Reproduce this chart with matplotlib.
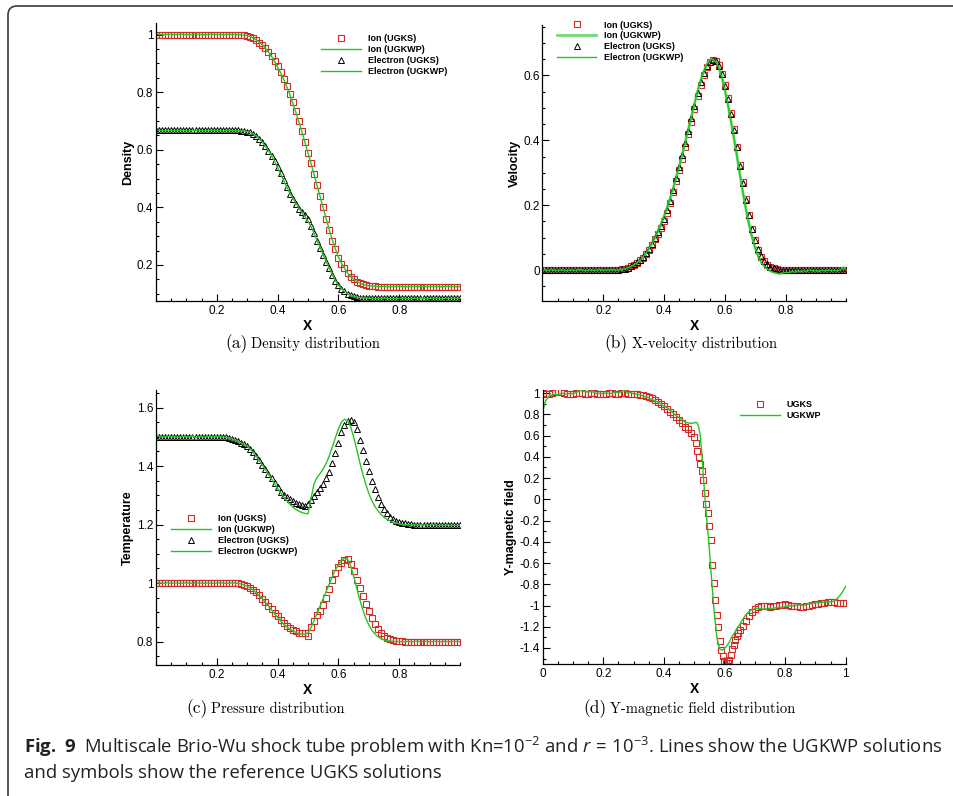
import numpy as np
import matplotlib
matplotlib.use('Agg')
import matplotlib.pyplot as plt
from matplotlib.patches import FancyBboxPatch
from matplotlib.transforms import IdentityTransform
from matplotlib.ticker import FixedLocator, FixedFormatter, MultipleLocator

# ---------------- data ----------------
# common grid for panels (a)-(c)
x = np.linspace(0.0, 1.0, 101)

# (a) density
rho_ion_ugks = [
    1.0, 1.0, 1.0, 1.0, 1.0, 1.0, 1.0, 1.0, 1.0, 1.0,
    1.0, 1.0, 1.0, 1.0, 1.0, 1.0, 1.0, 1.0, 1.0, 1.0,
    1.0, 1.0, 1.0, 1.0, 1.0, 1.0, 1.0, 1.0, 0.999, 0.998,
    0.996, 0.992, 0.987, 0.980, 0.972, 0.963, 0.953, 0.940, 0.925, 0.908,
    0.890, 0.870, 0.847, 0.823, 0.795, 0.765, 0.735, 0.700, 0.665, 0.628,
    0.590, 0.555, 0.516, 0.477, 0.440, 0.400, 0.360, 0.320, 0.285, 0.255,
    0.225, 0.205, 0.190, 0.172, 0.160, 0.150, 0.142, 0.137, 0.133, 0.130,
    0.128, 0.127, 0.126, 0.125, 0.125, 0.125, 0.125, 0.125, 0.125, 0.125,
    0.125, 0.125, 0.125, 0.125, 0.125, 0.125, 0.125, 0.125, 0.125, 0.125,
    0.125, 0.125, 0.125, 0.125, 0.125, 0.125, 0.125, 0.125, 0.125, 0.125,
    0.125]
rho_ion_ugkwp = [
    1.0, 1.001, 0.999, 1.0, 1.001, 1.0, 0.999, 1.0, 1.001, 1.0,
    1.0, 0.999, 1.0, 1.001, 1.0, 1.0, 0.999, 1.0, 1.001, 1.0,
    1.0, 1.0, 0.999, 1.0, 1.001, 1.0, 1.0, 0.999, 0.999, 0.998,
    0.996, 0.993, 0.988, 0.981, 0.973, 0.964, 0.952, 0.939, 0.924, 0.906,
    0.887, 0.867, 0.845, 0.820, 0.792, 0.762, 0.730, 0.697, 0.662, 0.626,
    0.588, 0.552, 0.514, 0.475, 0.437, 0.398, 0.360, 0.322, 0.287, 0.256,
    0.228, 0.206, 0.189, 0.172, 0.160, 0.150, 0.143, 0.137, 0.133, 0.130,
    0.128, 0.127, 0.126, 0.125, 0.125, 0.126, 0.125, 0.124, 0.125, 0.125,
    0.126, 0.125, 0.124, 0.125, 0.125, 0.126, 0.125, 0.125, 0.124, 0.125,
    0.125, 0.126, 0.125, 0.125, 0.124, 0.125, 0.126, 0.125, 0.125, 0.124,
    0.125]
rho_ele_ugks = [
    0.667, 0.667, 0.667, 0.667, 0.667, 0.667, 0.667, 0.667, 0.667, 0.667,
    0.667, 0.667, 0.667, 0.667, 0.667, 0.667, 0.667, 0.667, 0.667, 0.667,
    0.667, 0.667, 0.667, 0.667, 0.667, 0.667, 0.667, 0.667, 0.666, 0.665,
    0.663, 0.660, 0.655, 0.648, 0.638, 0.626, 0.612, 0.597, 0.580, 0.560,
    0.540, 0.518, 0.495, 0.470, 0.448, 0.428, 0.410, 0.395, 0.385, 0.375,
    0.360, 0.335, 0.310, 0.285, 0.260, 0.235, 0.210, 0.188, 0.165, 0.145,
    0.130, 0.118, 0.108, 0.100, 0.095, 0.092, 0.089, 0.087, 0.086, 0.085,
    0.084, 0.084, 0.084, 0.084, 0.084, 0.084, 0.084, 0.084, 0.084, 0.084,
    0.084, 0.084, 0.084, 0.084, 0.084, 0.084, 0.084, 0.084, 0.084, 0.084,
    0.084, 0.084, 0.084, 0.084, 0.084, 0.084, 0.084, 0.084, 0.084, 0.084,
    0.084]
rho_ele_ugkwp = [
    0.667, 0.668, 0.666, 0.667, 0.668, 0.667, 0.666, 0.667, 0.668, 0.667,
    0.667, 0.666, 0.667, 0.668, 0.667, 0.667, 0.666, 0.667, 0.668, 0.667,
    0.667, 0.667, 0.666, 0.667, 0.668, 0.667, 0.667, 0.666, 0.666, 0.665,
    0.663, 0.660, 0.655, 0.648, 0.638, 0.626, 0.612, 0.597, 0.580, 0.560,
    0.538, 0.516, 0.493, 0.471, 0.450, 0.432, 0.415, 0.398, 0.382, 0.368,
    0.352, 0.333, 0.310, 0.285, 0.260, 0.235, 0.211, 0.188, 0.166, 0.146,
    0.130, 0.118, 0.108, 0.100, 0.095, 0.092, 0.089, 0.087, 0.086, 0.085,
    0.084, 0.084, 0.083, 0.084, 0.084, 0.085, 0.084, 0.083, 0.084, 0.084,
    0.084, 0.085, 0.084, 0.083, 0.084, 0.084, 0.084, 0.085, 0.084, 0.083,
    0.084, 0.084, 0.085, 0.084, 0.083, 0.084, 0.084, 0.084, 0.085, 0.084,
    0.084]

# (b) x-velocity
u_ion_ugks = [
    0.0, 0.0, 0.0, 0.0, 0.0, 0.0, 0.0, 0.0, 0.0, 0.0,
    0.0, 0.0, 0.0, 0.0, 0.0, 0.0, 0.0, 0.0, 0.0, 0.0,
    0.0, 0.0, 0.0, 0.0, 0.0, 0.001, 0.003, 0.005, 0.008, 0.012,
    0.017, 0.023, 0.030, 0.038, 0.050, 0.063, 0.078, 0.095, 0.112, 0.130,
    0.150, 0.177, 0.208, 0.240, 0.275, 0.308, 0.343, 0.380, 0.418, 0.455,
    0.495, 0.535, 0.570, 0.600, 0.625, 0.640, 0.648, 0.645, 0.632, 0.605,
    0.570, 0.530, 0.485, 0.435, 0.380, 0.325, 0.270, 0.218, 0.170, 0.128,
    0.092, 0.063, 0.042, 0.027, 0.017, 0.010, 0.006, 0.004, 0.002, 0.001,
    0.0, 0.0, 0.0, 0.0, 0.0, 0.0, 0.0, 0.0, 0.0, 0.0,
    0.0, 0.0, 0.0, 0.0, 0.0, 0.0, 0.0, 0.0, 0.0, 0.0,
    0.0]
u_ele_ugks = [
    0.0, 0.0, 0.0, 0.0, 0.0, 0.0, 0.0, 0.0, 0.0, 0.0,
    0.0, 0.0, 0.0, 0.0, 0.0, 0.0, 0.0, 0.0, 0.0, 0.0,
    0.0, 0.0, 0.0, 0.0, 0.0, 0.001, 0.003, 0.005, 0.008, 0.013,
    0.018, 0.024, 0.032, 0.041, 0.053, 0.066, 0.082, 0.100, 0.118, 0.137,
    0.158, 0.184, 0.214, 0.247, 0.283, 0.318, 0.355, 0.392, 0.430, 0.468,
    0.507, 0.545, 0.578, 0.606, 0.628, 0.642, 0.648, 0.644, 0.630, 0.603,
    0.568, 0.527, 0.482, 0.432, 0.378, 0.322, 0.268, 0.216, 0.169, 0.128,
    0.092, 0.064, 0.043, 0.028, 0.018, 0.011, 0.007, 0.004, 0.002, 0.001,
    0.0, 0.0, 0.0, 0.0, 0.0, 0.0, 0.0, 0.0, 0.0, 0.0,
    0.0, 0.0, 0.0, 0.0, 0.0, 0.0, 0.0, 0.0, 0.0, 0.0,
    0.0]
u_ion_ugkwp = [
    0.0, 0.002, -0.002, 0.001, 0.0, -0.002, 0.002, 0.0, -0.001, 0.002,
    0.0, -0.002, 0.001, 0.002, -0.001, 0.0, 0.002, -0.002, 0.0, 0.001,
    -0.001, 0.002, 0.0, 0.001, 0.0, 0.001, 0.002, 0.004, 0.007, 0.011,
    0.016, 0.022, 0.030, 0.040, 0.052, 0.066, 0.082, 0.100, 0.120, 0.142,
    0.166, 0.192, 0.221, 0.252, 0.285, 0.320, 0.357, 0.395, 0.434, 0.473,
    0.512, 0.550, 0.583, 0.610, 0.632, 0.645, 0.650, 0.643, 0.625, 0.595,
    0.555, 0.510, 0.460, 0.405, 0.350, 0.292, 0.236, 0.185, 0.140, 0.100,
    0.068, 0.042, 0.024, 0.012, 0.004, -0.002, -0.006, -0.008, -0.010, -0.008,
    -0.006, -0.007, -0.003, -0.005, -0.001, -0.004, 0.0, -0.003, 0.002, -0.002,
    0.0, -0.003, 0.001, -0.002, 0.002, -0.001, 0.001, -0.002, 0.003, 0.008,
    0.002]
u_ele_ugkwp = [
    0.0, 0.001, -0.001, 0.002, 0.0, -0.001, 0.001, 0.0, -0.002, 0.001,
    0.0, -0.001, 0.002, 0.001, -0.002, 0.0, 0.001, -0.001, 0.0, 0.002,
    -0.001, 0.001, 0.0, 0.002, 0.0, 0.001, 0.002, 0.004, 0.007, 0.011,
    0.016, 0.022, 0.030, 0.040, 0.052, 0.066, 0.082, 0.100, 0.120, 0.143,
    0.167, 0.193, 0.222, 0.253, 0.286, 0.321, 0.358, 0.396, 0.435, 0.474,
    0.513, 0.551, 0.584, 0.611, 0.633, 0.646, 0.650, 0.642, 0.624, 0.594,
    0.554, 0.509, 0.459, 0.404, 0.349, 0.291, 0.235, 0.184, 0.139, 0.099,
    0.067, 0.041, 0.023, 0.011, 0.003, -0.003, -0.007, -0.009, -0.011, -0.009,
    -0.007, -0.008, -0.004, -0.006, -0.002, -0.005, -0.001, -0.004, 0.001, -0.003,
    -0.001, -0.004, 0.0, -0.003, 0.001, -0.002, 0.0, -0.003, 0.002, 0.006,
    0.001]

# (c) temperature
T_ele_ugks = [
    1.5, 1.5, 1.5, 1.5, 1.5, 1.5, 1.5, 1.5, 1.5, 1.5,
    1.5, 1.5, 1.5, 1.5, 1.5, 1.5, 1.5, 1.5, 1.5, 1.5,
    1.5, 1.5, 1.499, 1.498, 1.496, 1.493, 1.489, 1.485, 1.480, 1.475,
    1.470, 1.460, 1.448, 1.435, 1.420, 1.405, 1.390, 1.374, 1.358, 1.342,
    1.327, 1.313, 1.301, 1.295, 1.286, 1.279, 1.273, 1.269, 1.266, 1.265,
    1.270, 1.283, 1.296, 1.310, 1.325, 1.340, 1.358, 1.380, 1.410, 1.445,
    1.480, 1.515, 1.540, 1.555, 1.558, 1.550, 1.525, 1.490, 1.455, 1.418,
    1.383, 1.350, 1.320, 1.293, 1.270, 1.252, 1.238, 1.227, 1.219, 1.213,
    1.209, 1.206, 1.204, 1.202, 1.201, 1.2, 1.2, 1.2, 1.2, 1.2,
    1.2, 1.2, 1.2, 1.2, 1.2, 1.2, 1.2, 1.2, 1.2, 1.2,
    1.2]
T_ele_ugkwp = [
    1.5, 1.502, 1.498, 1.5, 1.503, 1.499, 1.501, 1.497, 1.5, 1.502,
    1.499, 1.5, 1.503, 1.498, 1.5, 1.501, 1.498, 1.502, 1.5, 1.499,
    1.501, 1.5, 1.499, 1.498, 1.496, 1.493, 1.489, 1.485, 1.480, 1.474,
    1.468, 1.458, 1.446, 1.433, 1.418, 1.403, 1.388, 1.372, 1.356, 1.340,
    1.324, 1.309, 1.295, 1.282, 1.270, 1.260, 1.252, 1.246, 1.241, 1.238,
    1.237, 1.290, 1.340, 1.362, 1.375, 1.390, 1.410, 1.435, 1.465, 1.497,
    1.527, 1.550, 1.560, 1.555, 1.535, 1.500, 1.458, 1.414, 1.374, 1.338,
    1.307, 1.282, 1.262, 1.247, 1.235, 1.225, 1.218, 1.212, 1.208, 1.205,
    1.202, 1.200, 1.199, 1.200, 1.198, 1.200, 1.197, 1.200, 1.198, 1.199,
    1.197, 1.200, 1.198, 1.196, 1.199, 1.197, 1.200, 1.196, 1.198, 1.197,
    1.198]
T_ion_ugks = [
    1.0, 1.0, 1.0, 1.0, 1.0, 1.0, 1.0, 1.0, 1.0, 1.0,
    1.0, 1.0, 1.0, 1.0, 1.0, 1.0, 1.0, 1.0, 1.0, 1.0,
    1.0, 1.0, 1.0, 1.0, 1.0, 1.0, 1.0, 0.999, 0.997, 0.994,
    0.990, 0.984, 0.977, 0.968, 0.958, 0.947, 0.935, 0.923, 0.911, 0.899,
    0.887, 0.875, 0.864, 0.855, 0.847, 0.840, 0.835, 0.831, 0.829, 0.829,
    0.820, 0.850, 0.870, 0.890, 0.905, 0.925, 0.950, 0.980, 1.010, 1.035,
    1.055, 1.070, 1.080, 1.082, 1.065, 1.042, 1.012, 0.983, 0.957, 0.930,
    0.905, 0.880, 0.860, 0.843, 0.830, 0.820, 0.813, 0.808, 0.805, 0.803,
    0.802, 0.801, 0.8, 0.8, 0.8, 0.8, 0.8, 0.8, 0.8, 0.8,
    0.8, 0.8, 0.8, 0.8, 0.8, 0.8, 0.8, 0.8, 0.8, 0.8,
    0.8]
T_ion_ugkwp = [
    1.0, 1.001, 0.999, 1.0, 1.002, 0.999, 1.0, 1.001, 0.999, 1.0,
    1.001, 1.0, 0.999, 1.001, 1.0, 1.0, 0.999, 1.001, 1.0, 0.999,
    1.0, 1.001, 1.0, 0.999, 1.0, 1.001, 1.0, 0.999, 0.997, 0.993,
    0.989, 0.983, 0.976, 0.967, 0.957, 0.946, 0.934, 0.921, 0.908, 0.895,
    0.883, 0.871, 0.860, 0.851, 0.843, 0.837, 0.832, 0.828, 0.826, 0.825,
    0.830, 0.848, 0.872, 0.897, 0.922, 0.947, 0.972, 0.997, 1.022, 1.045,
    1.064, 1.077, 1.085, 1.082, 1.060, 1.025, 0.984, 0.945, 0.910, 0.880,
    0.857, 0.839, 0.826, 0.817, 0.810, 0.806, 0.803, 0.802, 0.801, 0.800,
    0.801, 0.799, 0.800, 0.801, 0.799, 0.800, 0.802, 0.799, 0.800, 0.801,
    0.799, 0.800, 0.801, 0.800, 0.799, 0.801, 0.800, 0.799, 0.801, 0.800,
    0.800]

# (d) y-magnetic field, finer sampling through the shock
xb = np.concatenate([np.linspace(0.0, 0.49, 50),
                     np.linspace(0.50, 0.65, 31),
                     np.linspace(0.66, 1.0, 35)])
By_ugks = [
    1.0, 0.99, 0.995, 1.005, 1.01, 1.015, 1.01, 1.0, 0.995, 0.99,
    0.995, 1.0, 1.005, 1.0, 0.995, 0.995, 1.0, 1.0, 0.995, 0.99,
    0.99, 0.995, 1.0, 1.0, 0.995, 0.995, 1.0, 1.0, 0.995, 0.995,
    0.99, 0.99, 0.985, 0.98, 0.975, 0.965, 0.955, 0.94, 0.92, 0.9,
    0.875, 0.85, 0.825, 0.8, 0.775, 0.745, 0.715, 0.685, 0.66, 0.625,
    0.59, 0.53, 0.46, 0.40, 0.33, 0.27, 0.18, 0.06, -0.04, -0.13,
    -0.25, -0.38, -0.62, -0.79, -0.95, -1.09, -1.2, -1.33, -1.42, -1.48,
    -1.52, -1.545, -1.54, -1.515, -1.47, -1.41, -1.37, -1.325, -1.29, -1.26,
    -1.23,
    -1.19, -1.15, -1.1, -1.06, -1.03, -1.01, -1.0, -1.0, -1.005, -1.01,
    -1.005, -1.0, -0.995, -0.995, -0.99, -0.995, -1.0, -1.0, -1.005, -1.01,
    -1.01, -1.005, -1.0, -0.995, -0.99, -0.985, -0.98, -0.975, -0.97, -0.97,
    -0.97, -0.975, -0.975, -0.98, -0.98]
By_ugkwp = [
    0.83, 0.93, 0.97, 0.985, 0.99, 0.985, 0.995, 1.0, 0.99, 1.0,
    0.995, 1.005, 1.02, 1.03, 1.015, 1.01, 1.02, 1.005, 0.995, 1.0,
    0.995, 1.005, 0.995, 1.0, 1.01, 1.005, 1.015, 1.035, 1.0, 1.005,
    0.995, 0.99, 0.985, 0.975, 0.965, 0.96, 0.94, 0.93, 0.915, 0.9,
    0.875, 0.865, 0.84, 0.815, 0.79, 0.77, 0.75, 0.73, 0.72, 0.715,
    0.72, 0.725, 0.72, 0.68, 0.6, 0.44, 0.22, 0.04, -0.14, -0.3,
    -0.47, -0.66, -0.85, -1.03, -1.17, -1.3, -1.37, -1.41, -1.42, -1.415,
    -1.405, -1.39, -1.37, -1.35, -1.32, -1.29, -1.27, -1.25, -1.22, -1.2,
    -1.18,
    -1.13, -1.09, -1.06, -1.04, -1.03, -1.025, -1.03, -1.035, -1.03, -1.025,
    -1.03, -1.02, -1.015, -1.02, -1.01, -1.005, -1.0, -1.005, -0.995, -0.995,
    -1.0, -0.99, -0.985, -0.98, -0.975, -0.975, -0.97, -0.97, -0.97, -0.965,
    -0.96, -0.94, -0.91, -0.87, -0.82]

# tick labels
ticks_x_inner = [0.2, 0.4, 0.6, 0.8]
labels_x_inner = ['0.2', '0.4', '0.6', '0.8']
ticks_x_full = [0, 0.2, 0.4, 0.6, 0.8, 1.0]
labels_x_full = ['0', '0.2', '0.4', '0.6', '0.8', '1']
ticks_rho = [0.2, 0.4, 0.6, 0.8, 1.0]
labels_rho = ['0.2', '0.4', '0.6', '0.8', '1']
ticks_u = [0.0, 0.2, 0.4, 0.6]
labels_u = ['0', '0.2', '0.4', '0.6']
ticks_T = [0.8, 1.0, 1.2, 1.4, 1.6]
labels_T = ['0.8', '1', '1.2', '1.4', '1.6']
ticks_B = [-1.4, -1.2, -1.0, -0.8, -0.6, -0.4, -0.2, 0.0, 0.2, 0.4, 0.6, 0.8, 1.0]
labels_B = ['-1.4', '-1.2', '-1', '-0.8', '-0.6', '-0.4', '-0.2', '0',
            '0.2', '0.4', '0.6', '0.8', '1']

# ---------------- style ----------------
plt.rcParams['font.family'] = ['Liberation Sans', 'DejaVu Sans']
plt.rcParams['axes.unicode_minus'] = False
plt.rcParams['mathtext.fontset'] = 'custom'
plt.rcParams['mathtext.rm'] = 'Open Sans'
plt.rcParams['mathtext.it'] = 'Open Sans:italic'
plt.rcParams['mathtext.bf'] = 'Open Sans:bold'

RED = '#d42a2a'
GREEN = '#22c822'
W, H = 954, 796

fig = plt.figure(figsize=(W / 100, H / 100), dpi=100)


def px_axes(left, top, right, bottom):
    return fig.add_axes([left / W, 1 - bottom / H, (right - left) / W, (bottom - top) / H])


def style(ax, ylim, yt, yl, yminor, ylabel, xt, xl):
    ax.set_xlim(0, 1)
    ax.set_ylim(*ylim)
    ax.spines['top'].set_visible(False)
    ax.spines['right'].set_visible(False)
    ax.spines['left'].set_linewidth(0.9)
    ax.spines['bottom'].set_linewidth(0.9)
    ax.xaxis.set_major_locator(FixedLocator(xt))
    ax.xaxis.set_major_formatter(FixedFormatter(xl))
    ax.xaxis.set_minor_locator(MultipleLocator(0.05))
    ax.yaxis.set_major_locator(FixedLocator(yt))
    ax.yaxis.set_major_formatter(FixedFormatter(yl))
    ax.yaxis.set_minor_locator(MultipleLocator(yminor))
    ax.tick_params(which='both', direction='in', labelsize=8.5, width=0.8)
    ax.tick_params(which='major', length=5)
    ax.tick_params(which='minor', length=2.5)
    ax.tick_params(axis='y', pad=2)
    ax.tick_params(axis='x', pad=3)
    ax.set_xlabel('X', fontweight='bold', fontsize=10, labelpad=1)
    ax.set_ylabel(ylabel, fontweight='bold', fontsize=9, labelpad=2)


def add_legend(ax, handles, labels, left, top):
    ax.legend(handles, labels, loc='upper left', bbox_to_anchor=(left / W, 1 - top / H),
              bbox_transform=fig.transFigure, frameon=False, borderpad=0, borderaxespad=0,
              handlelength=4.4, handletextpad=0.8, labelspacing=0.22,
              prop={'weight': 'bold', 'size': 6.5})


sq = dict(ls='none', marker='s', ms=5.0, mfc='none', mec=RED, mew=0.8)
tri = dict(ls='none', marker='^', ms=5.0, mfc='none', mec='black', mew=0.7)

# (a) density
ax = px_axes(156, 23, 460, 301)
h1, = ax.plot(x, rho_ion_ugks, **sq)
h2, = ax.plot(x, rho_ion_ugkwp, color=GREEN, lw=1.0)
h3, = ax.plot(x, rho_ele_ugks, **tri)
h4, = ax.plot(x, rho_ele_ugkwp, color=GREEN, lw=1.0)
style(ax, (0.075, 1.04), ticks_rho, labels_rho, 0.05, 'Density', ticks_x_inner, labels_x_inner)
add_legend(ax, [h1, h2, h3, h4], ['Ion (UGKS)', 'Ion (UGKWP)', 'Electron (UGKS)', 'Electron (UGKWP)'], 321, 34)

# (b) velocity
ax = px_axes(542.5, 25, 846.5, 301)
h1, = ax.plot(x, u_ion_ugks, **sq)
h2, = ax.plot(x, u_ion_ugkwp, color='#6fdc6f', lw=2.0)
h3, = ax.plot(x, u_ele_ugks, **tri)
h4, = ax.plot(x, u_ele_ugkwp, color=GREEN, lw=1.0)
style(ax, (-0.095, 0.755), ticks_u, labels_u, 0.05, 'Velocity', ticks_x_inner, labels_x_inner)
add_legend(ax, [h1, h2, h3, h4], ['Ion (UGKS)', 'Ion (UGKWP)', 'Electron (UGKS)', 'Electron (UGKWP)'], 556.7, 20.5)

# (c) temperature
ax = px_axes(156, 390, 460, 665)
h1, = ax.plot(x, T_ion_ugks, **sq)
h2, = ax.plot(x, T_ion_ugkwp, color=GREEN, lw=1.0)
h3, = ax.plot(x, T_ele_ugks, **tri)
h4, = ax.plot(x, T_ele_ugkwp, color=GREEN, lw=1.0)
style(ax, (0.72, 1.66), ticks_T, labels_T, 0.05, 'Temperature', ticks_x_inner, labels_x_inner)
add_legend(ax, [h1, h2, h3, h4], ['Ion (UGKS)', 'Ion (UGKWP)', 'Electron (UGKS)', 'Electron (UGKWP)'], 171, 514)

# (d) magnetic field
ax = px_axes(542.7, 390, 845.7, 664)
h1, = ax.plot(xb, By_ugks, **sq)
h2, = ax.plot(xb, By_ugkwp, color=GREEN, lw=1.0)
style(ax, (-1.551, 1.03), ticks_B, labels_B, 0.1, 'Y-magnetic field', ticks_x_full, labels_x_full)
add_legend(ax, [h1, h2], ['UGKS', 'UGKWP'], 740, 400)

# sub-captions
subcaps = [('(a)', 'Density distribution', 248, 348),
           ('(b)', 'X-velocity distribution', 628, 348),
           ('(c)', 'Pressure distribution', 208, 713),
           ('(d)', 'Y-magnetic field distribution', 606.5, 713)]
for tag, txt, xp, yp in subcaps:
    fig.text(xp / W, 1 - yp / H, tag, family='cmr10', fontsize=12.5, ha='right', va='baseline')
    fig.text((xp + 3.5) / W, 1 - yp / H, txt, family='cmr10', fontsize=10.5, ha='left', va='baseline')

# figure caption
fig.text(24 / W, 1 - 753 / H,
         r'$\mathbf{Fig.\ 9}$  Multiscale Brio-Wu shock tube problem with Kn=10$^{-2}$ and '
         r'$r\,=\,10^{-3}$. Lines show the UGKWP solutions',
         family='Open Sans', fontsize=13.3, ha='left', va='baseline', color='#222222')
fig.text(24 / W, 1 - 778 / H, 'and symbols show the reference UGKS solutions',
         family='Open Sans', fontsize=13.3, ha='left', va='baseline', color='#222222')

# rounded frame around the figure (only top and left edges visible)
frame = FancyBboxPatch((8, -60), 1100, H - 6 + 60, boxstyle='round,pad=0,rounding_size=9',
                       fill=False, edgecolor='#3a3a3a', lw=1.2, transform=IdentityTransform())
fig.add_artist(frame)

fig.savefig('out.png', dpi=100)
